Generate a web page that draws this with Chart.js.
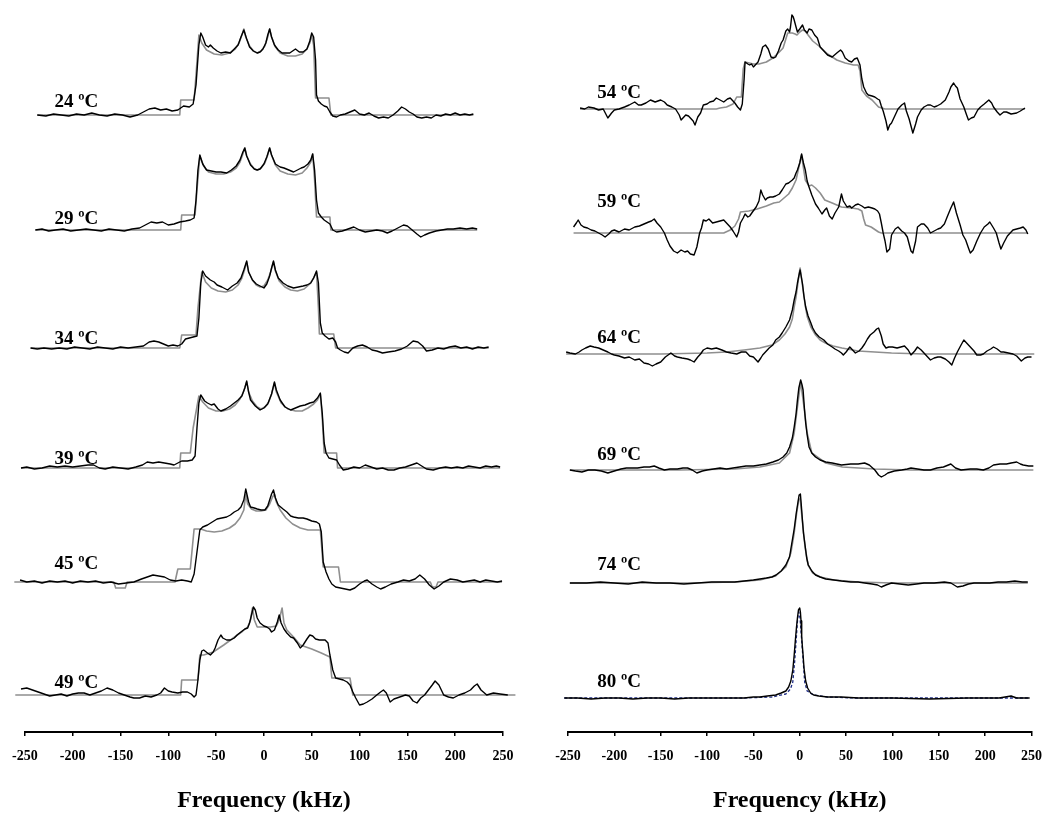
<!DOCTYPE html>
<html>
<head>
<meta charset="utf-8">
<script src="https://cdn.jsdelivr.net/npm/chart.js@4.4.1/dist/chart.umd.min.js"></script>
<style>
  body { margin: 0; background: #fff; width: 1054px; height: 814px; overflow: hidden; position: relative; }
  canvas { position: absolute; top: 0; }
  #leftPanel { left: 0; }
  #rightPanel { left: 527px; }
</style>
</head>
<body>
<canvas id="leftPanel" width="527" height="814"></canvas>
<canvas id="rightPanel" width="527" height="814"></canvas>
<script>
// x axis ticks (kHz)
const freqTicks = [-250, -200, -150, -100, -50, 0, 50, 100, 150, 200, 250];

const leftTemps = ['24 ºC', '29 ºC', '34 ºC', '39 ºC', '45 ºC', '49 ºC'];
const rightTemps = ['54 ºC', '59 ºC', '64 ºC', '69 ºC', '74 ºC', '80 ºC'];

const exp24 = [[-237,0],[-228,-1],[-220,1],[-212,0],[-204,-1],[-196,1],[-188,0],[-180,2],[-172,0],[-164,-1],[-156,1],[-148,0],[-140,-2],[-132,0],[-126,3],[-120,6],[-114,7],[-108,5],[-102,6],[-96,4],[-90,5],[-84,9],[-78,8],[-74,11],[-71,30],[-68,70],[-66,82],[-64,78],[-61,70],[-58,68],[-56,70],[-53,67],[-49,64],[-45,62],[-40,63],[-35,62],[-31,66],[-27,70],[-24,78],[-21,85],[-18,76],[-15,68],[-11,64],[-7,62],[-4,63],[-1,66],[2,72],[4,80],[6,86],[8,78],[11,70],[15,65],[19,62],[23,62],[27,62],[30,64],[33,66],[37,63],[41,63],[45,66],[48,74],[50,82],[52,78],[54,55],[55,20],[57,14],[60,11],[63,9],[66,8],[69,3],[72,-1],[76,-2],[80,0],[85,1],[90,3],[95,5],[100,1],[105,0],[110,2],[115,-1],[120,-3],[125,-2],[130,-3],[135,0],[140,4],[144,8],[148,6],[152,3],[156,1],[160,-2],[165,-3],[170,-2],[175,-3],[180,0],[185,-1],[190,1],[195,0],[200,2],[205,0],[210,1],[215,0],[219,1]];
const fit24 = [[-237,0],[-88,0],[-87,15],[-73,15],[-71,40],[-68,80],[-65,72],[-60,65],[-52,61],[-44,60],[-36,62],[-30,66],[-26,72],[-23,80],[-21,86],[-19,78],[-15,69],[-11,64],[-7,62],[-3,64],[1,69],[4,78],[6,86],[8,78],[12,68],[17,62],[25,59],[33,59],[40,61],[45,66],[48,72],[50,80],[52,70],[54,17],[68,17],[70,0],[219,0]];

const exp29 = [[-239,0],[-232,1],[-225,-1],[-218,0],[-210,1],[-202,-1],[-194,0],[-186,1],[-178,0],[-170,-1],[-162,1],[-154,0],[-146,-1],[-138,1],[-130,2],[-124,5],[-118,8],[-112,7],[-106,8],[-100,5],[-94,6],[-88,8],[-82,9],[-77,10],[-73,12],[-71,30],[-69,60],[-67,75],[-64,66],[-60,60],[-55,59],[-50,58],[-45,58],[-39,57],[-34,60],[-29,64],[-25,70],[-22,78],[-20,82],[-18,74],[-14,65],[-10,61],[-7,60],[-4,61],[0,66],[3,73],[6,82],[8,75],[12,66],[17,63],[21,62],[26,60],[31,58],[35,60],[39,62],[42,63],[46,66],[49,70],[51,76],[53,60],[55,30],[57,17],[60,13],[63,10],[66,8],[69,6],[72,0],[76,-2],[82,-1],[88,1],[94,3],[100,0],[106,-2],[112,-1],[118,0],[124,-1],[129,-3],[134,-1],[140,2],[146,5],[150,4],[155,0],[160,-4],[164,-7],[168,-5],[173,-3],[180,-1],[186,0],[192,1],[198,1],[205,2],[212,1],[218,2],[223,1]];
const fit29 = [[-239,0],[-87,0],[-86,15],[-72,15],[-70,40],[-67,74],[-63,64],[-58,58],[-50,56],[-42,56],[-35,58],[-29,62],[-25,68],[-22,76],[-20,82],[-18,74],[-14,66],[-10,61],[-7,60],[-3,62],[1,67],[4,75],[6,82],[8,75],[12,65],[17,59],[25,56],[33,55],[40,57],[45,62],[49,68],[51,76],[53,50],[55,13],[69,13],[70,0],[223,0]];

const exp34 = [[-244,0],[-237,-1],[-230,0],[-222,-1],[-214,0],[-206,-1],[-198,1],[-190,0],[-182,-1],[-174,1],[-166,0],[-158,-1],[-150,1],[-142,0],[-134,1],[-126,2],[-120,6],[-115,7],[-110,6],[-105,4],[-100,2],[-95,3],[-90,2],[-86,4],[-82,9],[-78,10],[-74,11],[-70,12],[-68,30],[-66,65],[-64,77],[-61,72],[-56,68],[-52,66],[-49,63],[-44,61],[-38,58],[-33,62],[-28,65],[-24,70],[-21,78],[-18,87],[-16,76],[-12,68],[-8,64],[-4,62],[0,60],[3,64],[6,72],[8,80],[10,87],[12,78],[15,70],[20,65],[25,62],[31,60],[36,61],[41,62],[45,63],[49,65],[52,70],[55,77],[57,65],[59,25],[61,15],[64,12],[68,9],[72,10],[75,6],[77,0],[80,-2],[84,-4],[88,-5],[93,0],[98,2],[103,3],[108,1],[113,-2],[118,-3],[124,-5],[130,-4],[137,-3],[144,-1],[150,2],[156,7],[161,6],[166,2],[170,-3],[176,-2],[182,0],[188,-1],[194,1],[200,2],[206,0],[212,1],[218,-1],[224,1],[230,0],[235,1]];
const fit34 = [[-244,0],[-88,0],[-86,13],[-71,13],[-69,40],[-65,76],[-61,66],[-55,60],[-48,57],[-40,56],[-33,58],[-27,63],[-23,70],[-20,79],[-18,86],[-16,76],[-12,68],[-8,63],[-4,61],[0,62],[4,68],[7,76],[10,86],[12,77],[16,67],[22,61],[28,58],[35,57],[42,59],[48,64],[52,70],[55,76],[57,40],[58,14],[73,14],[75,0],[235,0]];

const exp39 = [[-254,0],[-248,1],[-240,-1],[-232,0],[-224,2],[-216,1],[-208,2],[-200,1],[-192,2],[-184,3],[-178,3],[-172,0],[-166,-1],[-158,1],[-150,0],[-142,-1],[-134,1],[-127,3],[-122,6],[-116,5],[-110,6],[-104,5],[-98,4],[-94,3],[-90,5],[-86,7],[-80,7],[-75,8],[-72,12],[-70,40],[-68,65],[-66,73],[-62,67],[-59,65],[-55,63],[-52,64],[-48,59],[-45,57],[-40,59],[-35,62],[-31,65],[-27,68],[-23,72],[-20,80],[-18,87],[-16,76],[-14,68],[-9,62],[-4,58],[0,60],[4,64],[8,74],[11,86],[13,78],[17,68],[22,61],[28,58],[33,60],[38,62],[43,63],[48,65],[52,66],[56,70],[59,75],[61,55],[63,25],[65,15],[68,10],[72,9],[76,8],[79,3],[83,-2],[88,-1],[94,1],[100,0],[106,3],[112,1],[118,-1],[124,0],[130,-2],[136,-2],[142,0],[148,1],[154,3],[160,5],[165,2],[170,-1],[177,-2],[184,0],[190,1],[196,0],[202,1],[208,0],[214,2],[220,1],[226,0],[232,2],[238,1],[243,2],[247,1]];
const fit39 = [[-254,0],[-88,0],[-87,15],[-77,15],[-74,40],[-68,72],[-64,66],[-58,60],[-50,57],[-43,57],[-36,59],[-30,63],[-25,69],[-21,77],[-18,86],[-16,76],[-12,67],[-7,61],[-3,59],[1,61],[5,66],[8,74],[11,85],[13,76],[18,65],[25,59],[33,57],[40,57],[46,60],[52,64],[56,68],[59,74],[61,50],[63,15],[76,15],[77,0],[247,0]];

const exp45 = [[-261,1],[-255,2],[-248,0],[-240,1],[-232,-1],[-224,1],[-216,0],[-208,1],[-200,-1],[-192,1],[-184,0],[-176,1],[-168,-1],[-160,0],[-152,-2],[-144,-1],[-136,0],[-128,3],[-122,5],[-116,7],[-110,6],[-104,5],[-98,2],[-92,1],[-86,2],[-80,1],[-76,0],[-73,8],[-70,30],[-67,52],[-64,55],[-59,57],[-54,60],[-49,63],[-44,64],[-39,65],[-35,67],[-31,70],[-27,72],[-24,75],[-21,82],[-19,93],[-16,80],[-14,75],[-10,74],[-7,73],[-3,72],[1,72],[4,76],[6,82],[8,88],[10,92],[12,84],[15,77],[20,73],[24,70],[28,66],[31,65],[36,64],[41,64],[45,63],[50,61],[55,60],[58,58],[60,50],[62,20],[65,10],[68,3],[71,-2],[75,-5],[80,-6],[85,-7],[90,-8],[95,-6],[100,-2],[105,1],[108,2],[113,-2],[118,-5],[122,-7],[127,-5],[133,-2],[140,0],[146,2],[152,1],[158,3],[163,7],[168,3],[173,-3],[178,-7],[183,-4],[188,0],[195,3],[202,2],[208,0],[214,1],[220,2],[226,0],[232,2],[238,1],[244,0],[249,1]];
const fit45 = [[-261,0],[-157,0],[-155,-6],[-145,-6],[-143,0],[-93,0],[-90,13],[-77,13],[-73,53],[-66,53],[-60,51],[-52,50],[-44,51],[-36,54],[-30,58],[-25,64],[-21,72],[-19,88],[-17,78],[-13,73],[-8,71],[-3,71],[2,72],[6,78],[9,85],[11,88],[13,80],[17,72],[23,64],[30,58],[38,54],[46,52],[54,52],[59,52],[60,40],[62,15],[78,15],[80,0],[174,0],[176,-5],[180,-5],[182,0],[249,0]];

const exp49 = [[-260,2],[-254,6],[-248,7],[-242,5],[-236,3],[-230,1],[-224,-1],[-218,0],[-212,1],[-206,-1],[-200,1],[-194,2],[-188,2],[-182,0],[-176,2],[-170,4],[-164,7],[-158,5],[-152,2],[-146,0],[-140,-2],[-136,-3],[-130,-3],[-124,-1],[-118,-2],[-112,0],[-108,2],[-104,7],[-100,4],[-96,3],[-90,2],[-85,3],[-80,3],[-76,1],[-73,-2],[-71,0],[-69,15],[-67,35],[-65,44],[-63,45],[-59,42],[-56,40],[-53,43],[-51,47],[-48,55],[-45,60],[-43,57],[-39,55],[-35,55],[-31,57],[-28,60],[-24,63],[-20,66],[-17,67],[-15,72],[-13,80],[-11,88],[-9,85],[-7,77],[-4,72],[0,69],[3,68],[6,66],[8,63],[11,65],[14,73],[16,80],[18,72],[21,66],[24,62],[28,58],[31,57],[35,52],[38,47],[41,50],[45,56],[48,60],[51,59],[54,56],[58,55],[61,55],[64,55],[67,52],[69,40],[72,25],[75,17],[79,16],[83,15],[87,13],[90,10],[93,3],[96,-3],[100,-10],[104,-9],[108,-7],[113,-4],[118,0],[122,3],[125,5],[128,2],[132,-7],[136,-4],[142,-2],[148,0],[152,-1],[156,-6],[160,-8],[164,-3],[168,0],[172,5],[176,10],[179,14],[183,10],[188,0],[193,-2],[198,-3],[204,0],[210,2],[216,5],[220,9],[223,11],[227,5],[233,0],[240,2],[247,1],[255,0],[263,1]];
const fit49 = [[-260,0],[-87,0],[-86,15],[-69,15],[-67,40],[-63,40],[-53,43],[-42,50],[-32,57],[-22,64],[-17,68],[-14,75],[-12,87],[-10,75],[-7,68],[0,68],[7,68],[13,69],[16,75],[19,87],[21,72],[24,65],[31,58],[38,50],[50,46],[60,42],[69,38],[71,17],[90,17],[93,0],[263,0]];

const exp54 = [[-237,1],[-232,0],[-228,2],[-222,1],[-217,-1],[-212,0],[-207,-9],[-203,-4],[-200,-1],[-195,0],[-189,2],[-184,4],[-178,7],[-174,4],[-171,4],[-166,6],[-161,9],[-156,7],[-150,9],[-146,7],[-143,4],[-138,2],[-134,0],[-130,-6],[-128,-11],[-125,-8],[-123,-6],[-120,-7],[-118,-9],[-115,-12],[-113,-16],[-110,-8],[-107,-4],[-104,4],[-100,5],[-97,7],[-93,8],[-90,11],[-86,9],[-82,7],[-78,10],[-75,11],[-72,8],[-70,6],[-67,2],[-64,-1],[-62,5],[-60,30],[-59,47],[-56,45],[-54,44],[-52,45],[-50,42],[-47,45],[-45,47],[-42,55],[-40,62],[-37,64],[-34,60],[-31,52],[-28,51],[-26,52],[-23,58],[-20,66],[-18,69],[-15,78],[-13,80],[-11,77],[-10,82],[-8.5,94],[-7,92],[-6,89],[-4,82],[-2.5,77],[0,80],[3,84],[5,79],[8,76],[10,80],[13,79],[16,74],[19,71],[22,62],[26,58],[30,54],[35,52],[40,56],[44,59],[46,57],[49,51],[53,48],[56,47],[59,50],[62,51],[65,44],[67,30],[69,22],[72,16],[74,14],[78,13],[81,12],[84,10],[86,9],[88,3],[90,-2],[93,-12],[95,-21],[97,-16],[99,-14],[103,-6],[106,0],[110,4],[113,6],[115,-2],[118,-10],[122,-24],[125,-15],[127,-8],[131,-1],[134,2],[138,4],[141,4],[145,2],[148,3],[152,5],[157,9],[161,17],[163,22],[166,26],[168,23],[170,21],[173,10],[177,2],[180,-6],[182,-11],[185,-9],[188,-8],[192,-1],[195,2],[199,5],[204,9],[207,6],[209,2],[213,-3],[216,-6],[220,-3],[223,-3],[228,-5],[234,-4],[238,-2],[243,1]];
const fit54 = [[-237,0],[-90,0],[-86,1],[-79,2],[-72,5],[-68,12],[-63,12],[-61,40],[-59,47],[-50,45],[-44,45],[-36,47],[-29,51],[-22,57],[-18,61],[-13,76],[-10,76],[-8,76],[-5,75],[-3,74],[0,77],[3,79],[6,78],[9,74],[14,68],[22,62],[30,55],[40,49],[49,46],[58,44],[63,44],[65,38],[67,19],[72,13],[78,9],[85,2],[92,0],[243,0]];

const exp59 = [[-244,6],[-241,10],[-239,13],[-236,8],[-233,6],[-229,5],[-225,3],[-221,2],[-217,0],[-213,-2],[-210,-4],[-206,-1],[-203,2],[-200,3],[-195,1],[-189,4],[-184,3],[-178,6],[-173,7],[-168,9],[-163,11],[-160,12],[-157,14],[-154,10],[-150,6],[-146,0],[-143,-7],[-140,-13],[-136,-18],[-132,-20],[-128,-17],[-124,-19],[-121,-18],[-118,-21],[-114,-22],[-111,-14],[-108,0],[-106,5],[-104,13],[-101,12],[-98,14],[-94,10],[-90,11],[-86,12],[-82,13],[-78,9],[-75,6],[-72,2],[-68,-4],[-66,1],[-64,10],[-61,15],[-59,19],[-56,16],[-54,17],[-51,21],[-47,26],[-44,32],[-42,43],[-40,38],[-37,33],[-35,35],[-32,36],[-29,36],[-26,37],[-22,39],[-19,43],[-15,49],[-12,50],[-8,53],[-6,55],[-4,60],[-2.5,63],[0,70],[2,79],[4,70],[6,63],[8,52],[10,46],[13,38],[17,29],[20,25],[24,19],[27,23],[29,25],[32,17],[35,14],[38,20],[42,26],[45,39],[47,32],[51,26],[54,27],[56,25],[60,28],[63,29],[67,27],[70,25],[74,26],[78,25],[81,24],[84,22],[86,19],[88,10],[90,0],[92,-8],[94,-19],[97,-16],[99,-2],[103,4],[106,6],[110,2],[113,0],[116,-4],[120,-18],[122,-20],[125,-8],[127,6],[131,9],[134,9],[138,5],[141,0],[145,2],[149,4],[152,5],[156,9],[159,16],[163,25],[166,31],[169,20],[173,8],[176,-2],[179,-7],[182,-15],[184,-20],[187,-17],[191,-8],[195,0],[199,6],[203,9],[205,11],[209,5],[212,0],[215,-10],[217,-16],[220,-10],[224,-3],[227,0],[230,3],[234,4],[238,5],[241,6],[244,3],[246,-1]];
const fit59 = [[-244,0],[-82,0],[-75,3],[-70,7],[-66,14],[-64,21],[-55,22],[-46,24],[-36,27],[-28,30],[-22,31],[-17,35],[-12,39],[-8,45],[-4,53],[0,70],[2,78],[4,65],[6,53],[10,47],[13,48],[17,45],[22,40],[27,33],[35,30],[45,26],[56,25],[63,24],[67,22],[69,14],[71,8],[77,6],[85,1],[88,0],[246,0]];

const exp64 = [[-252,2],[-248,1],[-242,0],[-238,2],[-235,4],[-231,6],[-226,8],[-222,7],[-217,6],[-212,4],[-207,2],[-203,0],[-200,-1],[-195,-2],[-189,-4],[-184,-3],[-178,-6],[-173,-5],[-168,-9],[-163,-10],[-159,-12],[-155,-10],[-150,-8],[-145,-3],[-139,1],[-135,-2],[-132,-3],[-127,-4],[-121,-5],[-118,-6],[-114,-8],[-110,-3],[-107,0],[-104,4],[-100,6],[-95,5],[-90,6],[-84,4],[-79,2],[-74,1],[-68,0],[-63,2],[-58,2],[-54,-2],[-50,-3],[-47,-6],[-45,-8],[-42,-4],[-40,-1],[-36,3],[-33,6],[-29,9],[-26,14],[-22,17],[-19,21],[-15,27],[-11,34],[-8,44],[-6,54],[-4,62],[-2.5,71],[-1,78],[0.4,84],[1.5,78],[3,70],[4.5,58],[6.4,47],[9,38],[12,31],[14,26],[17,21],[21,17],[26,14],[30,10],[35,7],[38,5],[42,3],[45,1],[47,-1],[50,2],[54,7],[57,4],[60,1],[64,3],[67,6],[70,10],[73,15],[76,19],[80,22],[83,25],[85,26],[88,18],[90,10],[93,6],[96,7],[100,7],[105,6],[109,7],[113,8],[117,4],[120,-1],[124,3],[127,7],[131,4],[134,1],[138,-3],[141,-6],[145,-4],[149,-3],[152,-3],[157,-5],[161,-8],[164,-11],[167,-4],[170,2],[174,9],[177,14],[181,10],[184,7],[188,3],[191,-1],[195,-1],[198,0],[202,3],[206,5],[209,7],[213,5],[217,2],[220,2],[225,1],[230,0],[234,-2],[239,-7],[243,-4],[246,-3],[250,-3],[253,-3]];
const fit64 = [[-252,0],[-150,0],[-100,1],[-79,2],[-60,4],[-43,6],[-30,9],[-22,14],[-16,20],[-11,27],[-8,35],[-6,47],[-4,57],[-2.5,67],[-1,78],[0.4,86],[2,75],[3.6,64],[6,48],[8.2,37],[12,27],[17.1,19],[22,14],[27.7,11],[36,8],[45.5,6],[63,3],[99,1],[134,0],[253,0]];

const exp69 = [[-248,0],[-242,-1],[-235,-2],[-228,0],[-221,0],[-214,-1],[-207,-3],[-200,-1],[-193,1],[-187,2],[-182,2],[-175,2],[-168,3],[-162,3],[-157,4],[-152,2],[-146,0],[-140,1],[-132,1],[-126,2],[-121,2],[-116,0],[-111,-3],[-105,-1],[-100,0],[-93,1],[-86,2],[-79,1],[-72,2],[-65,3],[-58,4],[-50,4],[-43,5],[-36,6],[-29,8],[-23,10],[-18,13],[-14,17],[-11,23],[-8,32],[-6,43],[-4,56],[-2.5,70],[-1,82],[1,90],[2.5,85],[3.6,80],[5,62],[6.4,47],[8,35],[10,23],[13,17],[17,13],[22,10],[28,8],[35,7],[45,5],[55,6],[63,6],[70,7],[75,5],[81,0],[85,-5],[88,-7],[92,-5],[95,-3],[102,-1],[110,0],[116,1],[120,2],[127,1],[134,0],[141,0],[148,2],[155,3],[163,6],[168,2],[174,0],[184,1],[191,1],[198,0],[204,2],[209,5],[216,6],[223,6],[228,7],[234,8],[238,6],[241,5],[247,4],[252,4]];
const fit69 = [[-248,0],[-130,0],[-70,1],[-43,3],[-22,7],[-11,17],[-6,37],[-2.5,63],[1,88],[4.6,63],[8,37],[13,17],[28,7],[46,3],[81,1],[120,0],[252,0]];

const exp74 = [[-248,0],[-230,0],[-215,1],[-200,0],[-185,-1],[-170,1],[-155,0],[-140,0],[-125,-1],[-110,0],[-95,1],[-80,1],[-70,1],[-60,2],[-50,3],[-43,4],[-36,5],[-30,6],[-25.6,8],[-20,12],[-15,18],[-11,26],[-9.6,34],[-6,54],[-3.6,71],[-0.7,88],[0.7,89],[1.5,80],[2.8,64],[4,50],[5.7,38],[7.5,25],[9.2,18],[13,12],[17,8],[22,6],[28,4],[37,3],[45,2],[55,1],[63,1],[70,0],[78,-1],[84,-2],[88,-4],[93,-2],[99,0],[108,-1],[117,-2],[126,-1],[134,0],[145,0],[156,1],[163,0],[170,-4],[176,-3],[182,-1],[188,0],[196,0],[205,0],[214,1],[223,1],[232,2],[240,1],[246,1]];
const fit74 = [[-248,0],[-120,0],[-70,1],[-43,3],[-26,7],[-15,16],[-9.6,30],[-6,50],[-3.6,68],[-1,84],[0.5,84],[2.8,62],[5.7,36],[9,18],[14,10],[22,6],[37,3],[63,1],[100,0],[246,0]];

const exp80 = [[-254,0],[-240,0],[-225,-1],[-210,0],[-195,0],[-180,-1],[-165,0],[-150,0],[-135,-1],[-120,0],[-105,0],[-90,0],[-75,0],[-60,0],[-50,1],[-43,1],[-35,2],[-26,3],[-20,5],[-15,7],[-12,11],[-9.6,17],[-7.5,28],[-6,43],[-4.8,57],[-3.6,70],[-2.5,80],[-1.4,88],[0,90],[0.7,86],[1.4,77],[2.1,62],[2.8,52],[3.6,43],[4.6,30],[6.4,17],[8.5,10],[11.7,5],[15,3],[20.6,2],[30,1],[45,1],[63,0],[100,0],[140,-1],[180,0],[215,0],[228,2],[234,0],[248,0]];
const fit80 = [[-254,0],[-60,0],[-30,1],[-15,4],[-10,9],[-7.5,16],[-5.5,36],[-4,56],[-2.2,80],[-1,86],[0.3,80],[2.2,56],[3.8,36],[5.3,16],[8,7],[15,3],[30,1],[60,0],[248,0]];

// layout: vertical position of each trace (pixel units above the axis line)
const leftBase = [617, 502, 384, 264, 150, 37];
const rightBase = [623, 499, 378, 262, 149, 34];
const leftLabelLift = [8, 6, 4, 4, 13, 7];
const rightLabelLift = [11, 26, 11, 10, 13, 11];
const axisTop = 732;

const serif = '"Liberation Serif", "Times New Roman", serif';

const tempLabels = {
    id: 'tempLabels',
    afterDatasetsDraw(chart, args, opts) {
        const { ctx, scales } = chart;
        ctx.save();
        ctx.font = 'bold 19px ' + serif;
        ctx.fillStyle = '#000';
        ctx.textBaseline = 'alphabetic';
        opts.labels.forEach((t, i) => {
            const px = scales.x.getPixelForValue(opts.at);
            const py = scales.y.getPixelForValue(opts.base[i] + opts.lift[i]);
            ctx.fillText(t, px, py);
        });
        ctx.restore();
    }
};

function shift(points, base) {
    return points.map(p => ({ x: p[0], y: p[1] + base }));
}

function buildPanel(canvasId, temps, exps, fits, base, lift, labelAt, pad, fitColors) {
    const datasets = [];
    exps.forEach((spec, i) => {
        datasets.push({
            data: shift(spec, base[i]),
            borderColor: '#000',
            borderWidth: 1.4,
            order: 1
        });
        const special = fitColors[i] !== '#8f8f8f';
        datasets.push({
            data: shift(fits[i], base[i]),
            borderColor: fitColors[i],
            borderWidth: special ? 1.3 : 1.6,
            borderDash: special ? [3, 2] : [],
            order: 2
        });
    });
    datasets.forEach(d => {
        d.pointRadius = 0;
        d.tension = 0;
        d.fill = false;
        d.clip = false;
        d.borderJoinStyle = 'round';
    });

    new Chart(document.getElementById(canvasId), {
        type: 'line',
        data: { datasets: datasets },
        options: {
            responsive: false,
            animation: false,
            events: [],
            layout: { padding: { left: pad[0], right: pad[1], top: 0, bottom: 0 } },
            plugins: {
                legend: { display: false },
                tooltip: { enabled: false },
                tempLabels: { labels: temps, base: base, lift: lift, at: labelAt }
            },
            scales: {
                x: {
                    type: 'linear',
                    min: -250,
                    max: 250,
                    afterBuildTicks: s => { s.ticks = freqTicks.map(v => ({ value: v })); },
                    afterFit: s => { s.height = 814 - axisTop; },
                    ticks: {
                        autoSkip: false,
                        maxRotation: 0,
                        padding: 12,
                        color: '#000',
                        font: { family: serif, size: 14, weight: 'bold' },
                        callback: v => String(v)
                    },
                    grid: { drawOnChartArea: false, drawTicks: true, tickLength: 4, color: '#000', lineWidth: 1.5 },
                    border: { display: true, color: '#000', width: 2 },
                    title: {
                        display: true,
                        text: 'Frequency (kHz)',
                        color: '#000',
                        font: { family: serif, size: 24, weight: 'bold', lineHeight: 0.8 },
                        padding: { top: 20, bottom: 4 }
                    }
                },
                y: { display: false, min: 0, max: axisTop }
            }
        },
        plugins: [tempLabels]
    });
}

buildPanel('leftPanel', leftTemps,
    [exp24, exp29, exp34, exp39, exp45, exp49],
    [fit24, fit29, fit34, fit39, fit45, fit49],
    leftBase, leftLabelLift, -219, [24, 24],
    ['#8f8f8f', '#8f8f8f', '#8f8f8f', '#8f8f8f', '#8f8f8f', '#8f8f8f']);

buildPanel('rightPanel', rightTemps,
    [exp54, exp59, exp64, exp69, exp74, exp80],
    [fit54, fit59, fit64, fit69, fit74, fit80],
    rightBase, rightLabelLift, -218.5, [41, 17],
    ['#8f8f8f', '#8f8f8f', '#8f8f8f', '#8f8f8f', '#8f8f8f', '#1f2d86']);
</script>
</body>
</html>
